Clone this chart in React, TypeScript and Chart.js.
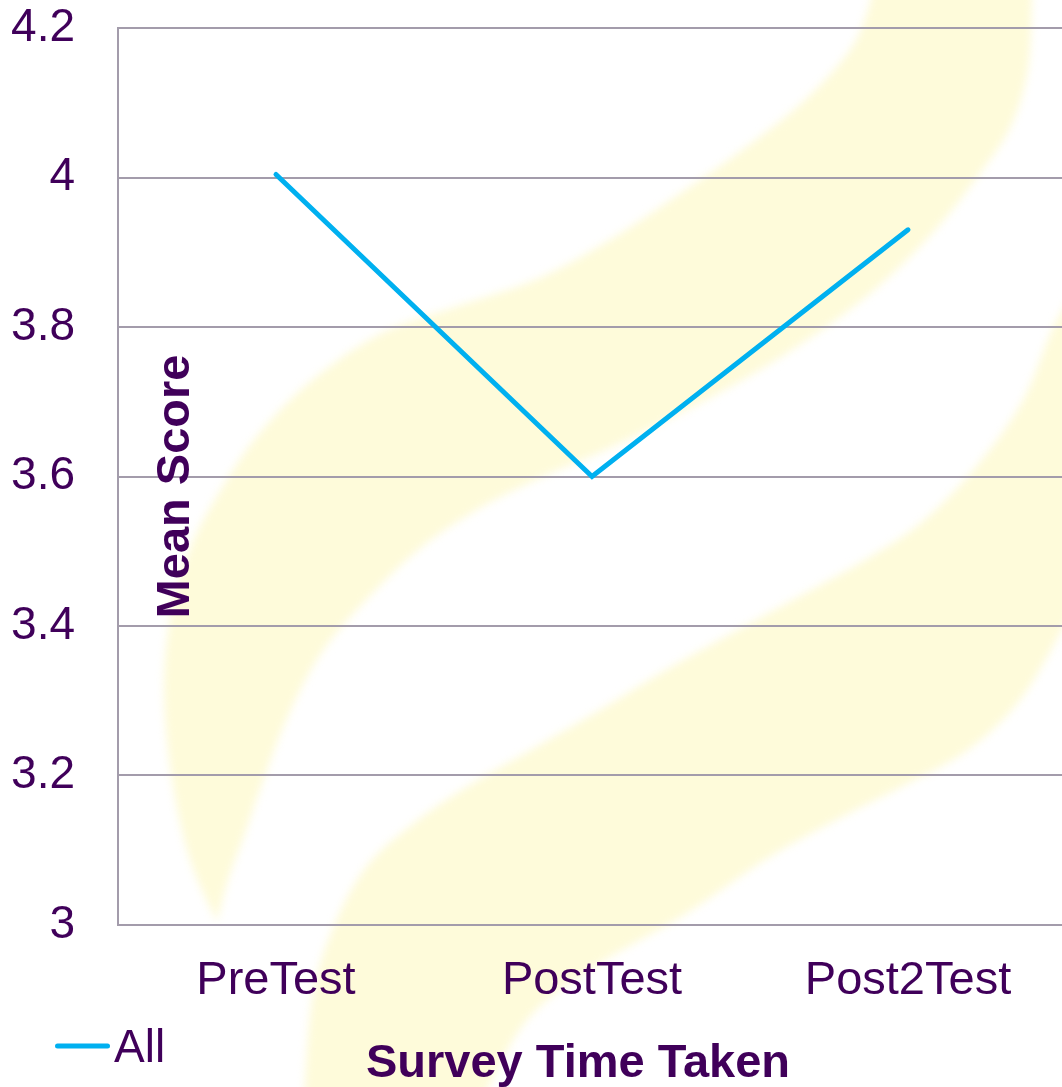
import React, { useEffect, useRef } from "react";
import { Chart, registerables } from "chart.js";

Chart.register(...registerables);

// ---------- data ----------
const categories = ["PreTest", "PostTest", "Post2Test"];
const seriesName = "All";
const allValues = [4.004, 3.6, 3.93];
const yMin = 3;
const yMax = 4.2;
const yStep = 0.2;
const yTickLabels = ["3", "3.2", "3.4", "3.6", "3.8", "4", "4.2"];
const xTitle = "Survey Time Taken";
const yTitle = "Mean Score";

// ---------- style ----------
const PURPLE = "#40005a";
const LINE_COLOR = "#00b0f0";
const GRID = "#a39cab";
const SWOOSH = "#fefbda";
const FONT = "'Liberation Sans', Arial, Helvetica, sans-serif";
const W = 1066;
const H = 1087;

// ---------- background decoration (watermark swooshes) ----------
const swoosh1Outer: number[][] = [
  [874, -20], [868, 10], [850, 50], [805, 100], [745, 148], [675, 197], [605, 243],
  [535, 280], [455, 307], [380, 334], [310, 382], [258, 435], [220, 491],
  [190, 548], [171, 612], [164, 690], [172, 780], [190, 860], [217, 922],
];
const swoosh1Inner: number[][] = [
  [217, 922], [228, 880], [244, 836], [262, 784], [288, 716], [322, 652], [370, 596],
  [423, 546], [480, 508], [540, 478], [610, 448], [700, 403], [768, 365], [836, 320],
  [890, 276], [937, 228], [975, 180], [1010, 128], [1028, 69], [1032, 0], [1034, -20],
];
const swoosh2Upper: number[][] = [
  [1100, 240], [1075, 290], [1052, 330], [1022, 402], [975, 468], [922, 522], [865, 560],
  [802, 595], [734, 632], [666, 670], [600, 710], [531, 750], [470, 785], [418, 820],
  [366, 867], [331, 933], [312, 1000], [304, 1100],
];
const swoosh2Lower: number[][] = [
  [482, 1100], [527, 1020], [594, 967], [684, 915], [768, 858], [840, 818], [903, 786],
  [968, 750], [1020, 700], [1062, 630], [1100, 560],
];

function smoothEdge(ctx: CanvasRenderingContext2D, pts: number[][], move: boolean) {
  if (move) ctx.moveTo(pts[0][0], pts[0][1]);
  else ctx.lineTo(pts[0][0], pts[0][1]);
  for (let i = 0; i < pts.length - 1; i++) {
    const p0 = pts[Math.max(i - 1, 0)];
    const p1 = pts[i];
    const p2 = pts[i + 1];
    const p3 = pts[Math.min(i + 2, pts.length - 1)];
    const c1x = p1[0] + (p2[0] - p0[0]) / 6;
    const c1y = p1[1] + (p2[1] - p0[1]) / 6;
    const c2x = p2[0] - (p3[0] - p1[0]) / 6;
    const c2y = p2[1] - (p3[1] - p1[1]) / 6;
    ctx.bezierCurveTo(c1x, c1y, c2x, c2y, p2[0], p2[1]);
  }
}

const watermarkPlugin = {
  id: "watermark",
  beforeDraw(chart: any) {
    const ctx: CanvasRenderingContext2D = chart.ctx;
    ctx.save();
    ctx.fillStyle = SWOOSH;
    try {
      (ctx as any).filter = "blur(4px)";
    } catch (e) {}
    ctx.beginPath();
    smoothEdge(ctx, swoosh1Outer, true);
    smoothEdge(ctx, swoosh1Inner, false);
    ctx.closePath();
    ctx.fill();
    ctx.beginPath();
    smoothEdge(ctx, swoosh2Upper, true);
    smoothEdge(ctx, swoosh2Lower, false);
    ctx.closePath();
    ctx.fill();
    ctx.restore();
  },
};

const labelsPlugin = {
  id: "customLabels",
  afterDraw(chart: any) {
    const ctx: CanvasRenderingContext2D = chart.ctx;
    const area = chart.chartArea;
    ctx.save();
    ctx.fillStyle = PURPLE;

    // y-axis title inside the plot
    ctx.save();
    ctx.translate(area.left + 71, (area.top + area.bottom) / 2 + 10);
    ctx.rotate(-Math.PI / 2);
    ctx.font = `bold 47px ${FONT}`;
    ctx.textAlign = "center";
    ctx.textBaseline = "alphabetic";
    ctx.fillText(yTitle, 0, 0);
    ctx.restore();

    // x-axis title
    ctx.font = `bold 47px ${FONT}`;
    ctx.textAlign = "center";
    ctx.textBaseline = "alphabetic";
    ctx.fillText(xTitle, area.left + 460, area.bottom + 152);

    // legend
    const ds = chart.data.datasets[0];
    const ly = area.bottom + 121;
    ctx.strokeStyle = ds.borderColor;
    ctx.lineWidth = 5;
    ctx.lineCap = "round";
    ctx.beginPath();
    ctx.moveTo(57.5, ly);
    ctx.lineTo(107.5, ly);
    ctx.stroke();
    ctx.font = `46px ${FONT}`;
    ctx.textAlign = "left";
    ctx.fillText(ds.label, 114, area.bottom + 137);
    ctx.restore();
  },
};

export default function App() {
  const canvasRef = useRef<HTMLCanvasElement | null>(null);

  useEffect(() => {
    const canvas = canvasRef.current;
    if (!canvas) return;
    const chart = new Chart(canvas, {
      type: "line",
      data: {
        labels: categories,
        datasets: [
          {
            label: seriesName,
            data: allValues,
            borderColor: LINE_COLOR,
            backgroundColor: LINE_COLOR,
            borderWidth: 5,
            pointRadius: 0,
            pointHoverRadius: 0,
            tension: 0,
            borderCapStyle: "round",
            borderJoinStyle: "miter",
            fill: false,
          },
        ],
      },
      options: {
        responsive: false,
        devicePixelRatio: 1,
        animation: false,
        events: [],
        layout: { padding: { top: 28, left: 0, right: 0, bottom: 0 } },
        plugins: {
          legend: { display: false },
          title: { display: false },
          tooltip: { enabled: false },
        },
        scales: {
          x: {
            offset: true,
            grid: { display: false, drawTicks: false },
            border: { display: false },
            ticks: {
              color: PURPLE,
              font: { family: FONT, size: 47 },
              padding: 28,
              autoSkip: false,
              maxRotation: 0,
              minRotation: 0,
            },
            afterFit: (scale: any) => {
              scale.height = 162;
              scale.paddingLeft = 0;
              scale.paddingRight = 0;
            },
          },
          y: {
            min: yMin,
            max: yMax,
            grid: { color: GRID, lineWidth: 2, drawTicks: false },
            border: { display: true, color: GRID, width: 2 },
            ticks: {
              stepSize: yStep,
              color: PURPLE,
              font: { family: FONT, size: 46 },
              padding: 43,
              callback: (value: any) => {
                const idx = Math.round((Number(value) - yMin) / yStep);
                return yTickLabels[idx] ?? String(value);
              },
            },
            afterFit: (scale: any) => {
              scale.width = 118;
              scale.paddingTop = 0;
              scale.paddingBottom = 0;
            },
          },
        },
      },
      plugins: [watermarkPlugin, labelsPlugin],
    });
    return () => chart.destroy();
  }, []);

  return (
    <div style={{ position: "fixed", left: 0, top: 0, width: W, height: H }}>
      <canvas ref={canvasRef} width={W} height={H} style={{ width: W, height: H, display: "block" }} />
    </div>
  );
}
